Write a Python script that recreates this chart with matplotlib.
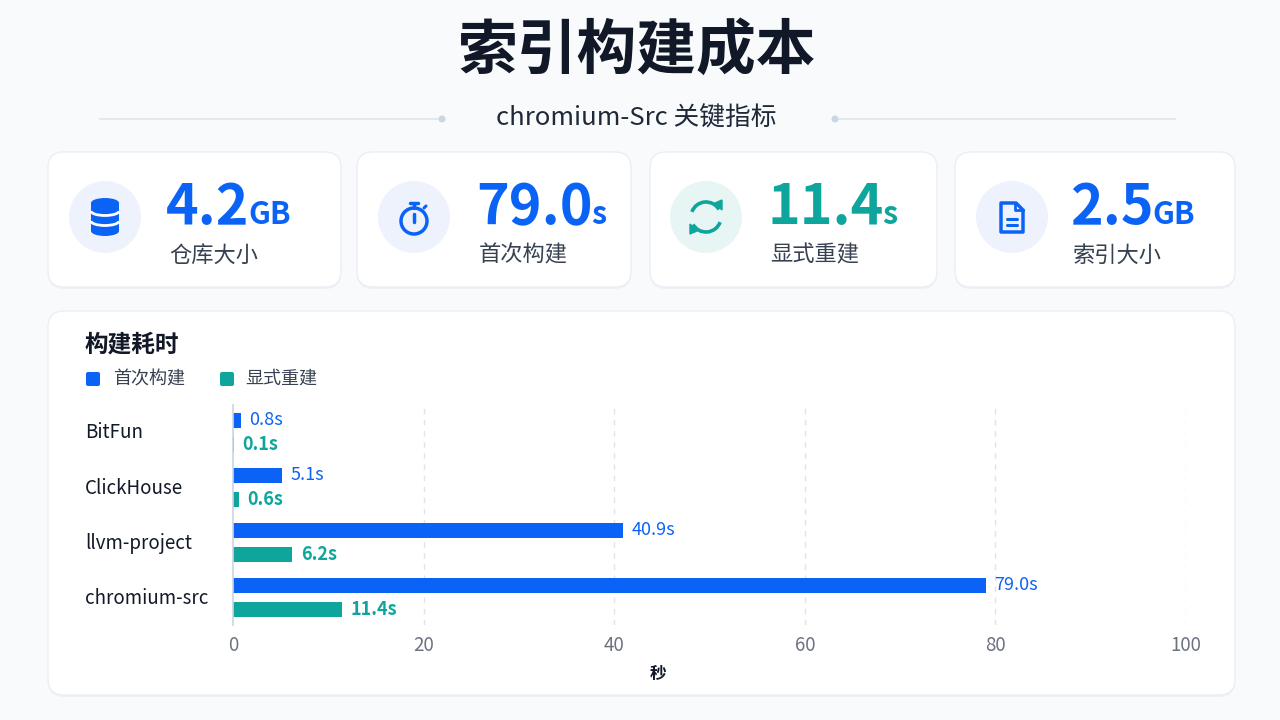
import matplotlib
matplotlib.use("Agg")
import matplotlib.pyplot as plt
from matplotlib.patches import FancyBboxPatch, Circle, Ellipse, Rectangle, Arc, Polygon
import numpy as np

plt.rcParams['font.family'] = ['Noto Sans CJK SC', 'DejaVu Sans']

# data
repos = ["BitFun", "ClickHouse", "llvm-project", "chromium-src"]
first_build = [0.8, 5.1, 40.9, 79.0]
rebuild = [0.1, 0.6, 6.2, 11.4]
series_names = ["首次构建", "显式重建"]
x_ticks = [0, 20, 40, 60, 80, 100]

card_values = ["4.2", "79.0", "11.4", "2.5"]
card_units = ["GB", "s", "s", "GB"]
card_labels = ["仓库大小", "首次构建", "显式重建", "索引大小"]

BLUE = "#0b63f6"
TEAL = "#0ea59c"
DARK = "#111827"
GRAY = "#6b7280"

fig = plt.figure(figsize=(12.8, 7.2), dpi=100)
fig.patch.set_facecolor("#f8fafc")

# overlay in pixel coords (y downward)
bg = fig.add_axes([0, 0, 1, 1])
bg.set_xlim(0, 1280)
bg.set_ylim(720, 0)
bg.axis("off")


def card(x0, y0, x1, y1):
    sh = FancyBboxPatch((x0, y0 + 2), x1 - x0, y1 - y0, boxstyle="round,pad=0,rounding_size=16",
                        fc="#eef1f6", ec="none", zorder=1)
    bg.add_patch(sh)
    p = FancyBboxPatch((x0, y0), x1 - x0, y1 - y0, boxstyle="round,pad=0,rounding_size=16",
                       fc="white", ec="#ebeef4", lw=1, zorder=2)
    bg.add_patch(p)


# title and subtitle
bg.text(637, 52, "索引构建成本", ha="center", va="center", fontsize=43, fontweight="bold", color=DARK)
bg.text(636, 119, "chromium-Src 关键指标", ha="center", va="center", fontsize=18.5, color="#1f2937")
bg.plot([100, 442], [119, 119], color="#e3e8f0", lw=1.5, zorder=1)
bg.plot([835, 1175], [119, 119], color="#e3e8f0", lw=1.5, zorder=1)
bg.add_patch(Circle((442, 119), 3.5, fc="#cdd6e4", ec="none", zorder=2))
bg.add_patch(Circle((835, 119), 3.5, fc="#cdd6e4", ec="none", zorder=2))

# metric cards
cards = [(48, 152, 341, 287), (357, 152, 631, 287), (650, 152, 937, 287), (955, 152, 1235, 287)]
icon_cx = [105, 414, 706, 1012]
num_x = [166, 476, 767, 1070]
colors = [BLUE, BLUE, TEAL, BLUE]
circ_fc = ["#edf2fd", "#edf2fd", "#e7f6f4", "#edf2fd"]

for i, (x0, y0, x1, y1) in enumerate(cards):
    card(x0, y0, x1, y1)
    bg.add_patch(Ellipse((icon_cx[i], 217), 72, 72, fc=circ_fc[i], ec="none", zorder=3))

renderer = fig.canvas.get_renderer()
for i in range(4):
    t = bg.text(num_x[i], 224, card_values[i], ha="left", va="baseline", fontsize=40,
                fontweight="bold", color=colors[i], zorder=4)
    bb = t.get_window_extent(renderer)
    xpix = bb.x1 - 1
    bg.text(xpix, 224, card_units[i], ha="left", va="baseline", fontsize=22,
            fontweight="bold", color=colors[i], zorder=4)
    bg.text(num_x[i] + 3, 255, card_labels[i], ha="left", va="center", fontsize=16,
            color="#374151", zorder=4)

# icon 1: database
cx = icon_cx[0]
bg.add_patch(Rectangle((cx - 14, 203), 28, 28, fc=BLUE, ec="none", zorder=5))
bg.add_patch(Ellipse((cx, 203), 28, 10, fc=BLUE, ec="none", zorder=5))
bg.add_patch(Ellipse((cx, 231), 28, 10, fc=BLUE, ec="none", zorder=5))
for yy in [211, 221]:
    bg.add_patch(Arc((cx, yy), 28, 9, theta1=0, theta2=180, ec="white", lw=2, zorder=6))

# icon 2: stopwatch
cx = icon_cx[1]
bg.add_patch(Circle((cx, 221), 13, fc="none", ec=BLUE, lw=2.5, zorder=5))
bg.plot([cx, cx], [204, 208], color=BLUE, lw=2.5, solid_capstyle="round", zorder=5)
bg.plot([cx - 4, cx + 4], [203, 203], color=BLUE, lw=2.5, solid_capstyle="round", zorder=5)
bg.plot([cx + 10, cx + 12], [208, 206], color=BLUE, lw=2.2, solid_capstyle="round", zorder=5)
bg.plot([cx, cx], [214, 222], color=BLUE, lw=2.5, solid_capstyle="round", zorder=5)

# icon 3: refresh arrows
cx = icon_cx[2]
bg.add_patch(Arc((cx, 217), 30, 30, theta1=200, theta2=330, ec=TEAL, lw=2.6, zorder=5))
bg.add_patch(Arc((cx, 217), 30, 30, theta1=20, theta2=150, ec=TEAL, lw=2.6, zorder=5))
bg.add_patch(Polygon([(cx + 9, 203), (cx + 16, 210), (cx + 16, 200)], closed=True, fc=TEAL, ec=TEAL,
                     lw=1, zorder=5))
bg.add_patch(Polygon([(cx - 9, 231), (cx - 16, 224), (cx - 16, 234)], closed=True, fc=TEAL, ec=TEAL,
                     lw=1, zorder=5))

# icon 4: document
cx = icon_cx[3]
bg.add_patch(Polygon([(cx - 11, 203), (cx + 4, 203), (cx + 11, 210), (cx + 11, 232), (cx - 11, 232)],
                     closed=True, fc="none", ec=BLUE, lw=2.5, joinstyle="round", zorder=5))
bg.plot([cx + 3, cx + 3, cx + 11], [203, 210, 210], color=BLUE, lw=2, zorder=5)
bg.plot([cx - 5, cx + 5], [219, 219], color=BLUE, lw=2.2, solid_capstyle="round", zorder=5)
bg.plot([cx - 5, cx + 5], [225, 225], color=BLUE, lw=2.2, solid_capstyle="round", zorder=5)

# chart card
card(48, 311, 1235, 695)
bg.text(85, 345, "构建耗时", ha="left", va="center", fontsize=17, fontweight="bold", color=DARK, zorder=4)
bg.add_patch(FancyBboxPatch((86, 372), 14, 14, boxstyle="round,pad=0,rounding_size=2", fc=BLUE,
                            ec="none", zorder=4))
bg.text(113, 379, series_names[0], ha="left", va="center", fontsize=13, color="#374151", zorder=4)
bg.add_patch(FancyBboxPatch((220, 372), 14, 14, boxstyle="round,pad=0,rounding_size=2", fc=TEAL,
                            ec="none", zorder=4))
bg.text(245, 379, series_names[1], ha="left", va="center", fontsize=13, color="#374151", zorder=4)

# bar chart
ax = fig.add_axes([233 / 1280, 1 - 625 / 720, (1186 - 233) / 1280, 220 / 720])
ax.set_facecolor("none")
y = np.arange(len(repos))
h = 0.27
off = 0.22
ax.barh(y - off, first_build, height=h, color=BLUE, zorder=3)
ax.barh(y + off, rebuild, height=h, color=TEAL, zorder=3)
for yi, v in zip(y, first_build):
    ax.text(v + 0.9, yi - off, f"{v:.1f}s", va="center", ha="left", fontsize=13, color=BLUE)
for yi, v in zip(y, rebuild):
    ax.text(v + 0.9, yi + off, f"{v:.1f}s", va="center", ha="left", fontsize=13, color=TEAL,
            fontweight="bold")
ax.set_xlim(0, 100)
ax.set_ylim(3.5, -0.5)
ax.set_xticks(x_ticks)
ax.set_xticklabels([str(t) for t in x_ticks], fontsize=13.5, color=GRAY)
ax.set_yticks([])
for yi, name in zip(y, repos):
    bg.text(85, 433 + 55 * yi, name, ha="left", va="center", fontsize=13.5, color=DARK, zorder=4)
ax.tick_params(axis="x", length=0, pad=7)
for s in ["top", "right", "bottom"]:
    ax.spines[s].set_visible(False)
ax.spines["left"].set_color("#cbd5e1")
ax.spines["left"].set_linewidth(1.2)
ax.spines["left"].set_zorder(4)
for t in x_ticks[1:]:
    ax.axvline(t, color="#dfe4ec", lw=1, ls=(0, (4, 4)), zorder=1)
bg.text(658, 674, "秒", ha="center", va="center", fontsize=12, fontweight="bold", color=DARK, zorder=4)

fig.savefig("out.png", dpi=100, facecolor=fig.get_facecolor())
